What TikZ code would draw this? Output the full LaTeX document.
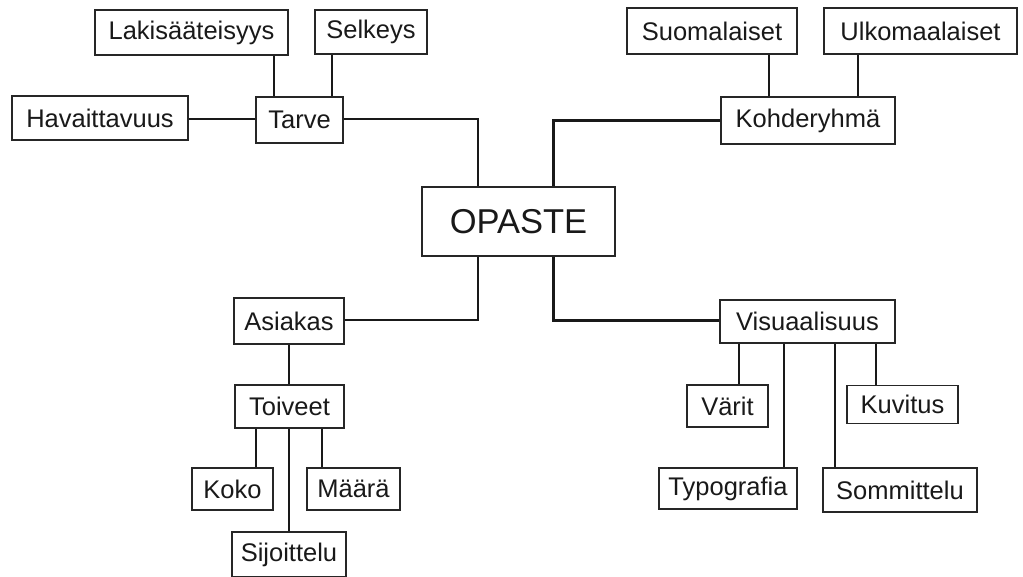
\documentclass[tikz,border=0pt]{standalone}
\usepackage{fontspec}
\setmainfont{Liberation Sans}
\begin{document}
\begin{tikzpicture}[x=1pt,y=-1pt,
  box/.style={draw=black!85, line width=1.4pt, fill=white, inner sep=0pt, text=black!90,
    font=\fontsize{25.5}{30}\selectfont},
  bigbox/.style={box, line width=2.2pt, font=\fontsize{34.5}{40}\selectfont},
  conn/.style={draw=black!90, line width=2.4pt}]
\useasboundingbox (0,0) rectangle (1023,577);
\fill[white] (0,0) rectangle (1023,577);
% nodes
\node[box, minimum width=193pt, minimum height=45pt] (lak) at (191.5,32.5) {Lakisääteisyys};
\node[box, minimum width=112pt, minimum height=44pt] (sel) at (371,32) {Selkeys};
\node[box, minimum width=176pt, minimum height=44pt] (hav) at (100,118) {Havaittavuus};
\node[box, minimum width=87pt, minimum height=46pt] (tar) at (299.5,120) {Tarve};
\node[bigbox, minimum width=193pt, minimum height=69pt] (op) at (518.5,221.5) {OPASTE};
\node[box, minimum width=170pt, minimum height=46pt] (suo) at (712,31) {Suomalaiset};
\node[box, minimum width=193pt, minimum height=46pt] (ulk) at (920.5,31) {Ulkomaalaiset};
\node[box, minimum width=174pt, minimum height=47pt] (koh) at (808,120.5) {Kohderyhmä};
\node[box, minimum width=110pt, minimum height=46pt] (asi) at (289,321) {Asiakas};
\node[box, minimum width=175pt, minimum height=43pt] (vis) at (807.5,321.5) {Visuaalisuus};
\node[box, minimum width=109pt, minimum height=43pt] (toi) at (289.5,406.5) {Toiveet};
\node[box, minimum width=81pt, minimum height=42pt] (koko) at (232.5,489) {Koko};
\node[box, minimum width=93pt, minimum height=42pt] (maa) at (353.5,489) {Määrä};
\node[box, minimum width=114pt, minimum height=45pt] (sij) at (289,554.5) {Sijoittelu};
\node[box, minimum width=81pt, minimum height=42pt] (var) at (727.5,406) {Värit};
\node[box, minimum width=111pt, minimum height=38pt] (kuv) at (902.5,404.5) {Kuvitus};
\node[box, minimum width=138pt, minimum height=41pt] (typ) at (728,488.5) {Typografia};
\node[box, minimum width=154pt, minimum height=44pt] (som) at (900,490) {Sommittelu};
% connectors
\begin{scope}[on background layer/.style={}]
\draw[conn] ([xshift=-25.5pt]tar.north) -- ([xshift=-25.5pt]tar.north |- lak.south);
\draw[conn] ([xshift=32.5pt]tar.north) -- ([xshift=32.5pt]tar.north |- sel.south);
\draw[conn] ([yshift=1pt]tar.west) -- ([yshift=1pt]tar.west -| hav.east);
\draw[conn] ([yshift=1pt]tar.east) -| ([xshift=-40.5pt]op.north);
\draw[conn] (koh.west) -| ([xshift=35pt]op.north);
\draw[conn] ([xshift=-39pt]koh.north) -- ([xshift=-39pt]koh.north |- suo.south);
\draw[conn] ([xshift=50pt]koh.north) -- ([xshift=50pt]koh.north |- ulk.south);
\draw[conn] ([yshift=1pt]asi.east) -| ([xshift=-40.5pt]op.south);
\draw[conn] ([yshift=1pt]vis.west) -| ([xshift=35pt]op.south);
\draw[conn] (asi.south) -- (asi.south |- toi.north);
\draw[conn] ([xshift=-33.5pt]toi.south) -- ([xshift=-33.5pt]toi.south |- koko.north);
\draw[conn] ([xshift=32.5pt]toi.south) -- ([xshift=32.5pt]toi.south |- maa.north);
\draw[conn] (toi.south -| sij.north) -- (sij.north);
\draw[conn] ([xshift=-68.5pt]vis.south) -- ([xshift=-68.5pt]vis.south |- var.north);
\draw[conn] ([xshift=-23.5pt]vis.south) -- ([xshift=-23.5pt]vis.south |- typ.north);
\draw[conn] ([xshift=27.5pt]vis.south) -- ([xshift=27.5pt]vis.south |- som.north);
\draw[conn] ([xshift=68.5pt]vis.south) -- ([xshift=68.5pt]vis.south |- kuv.north);
\end{scope}
\end{tikzpicture}
\end{document}
